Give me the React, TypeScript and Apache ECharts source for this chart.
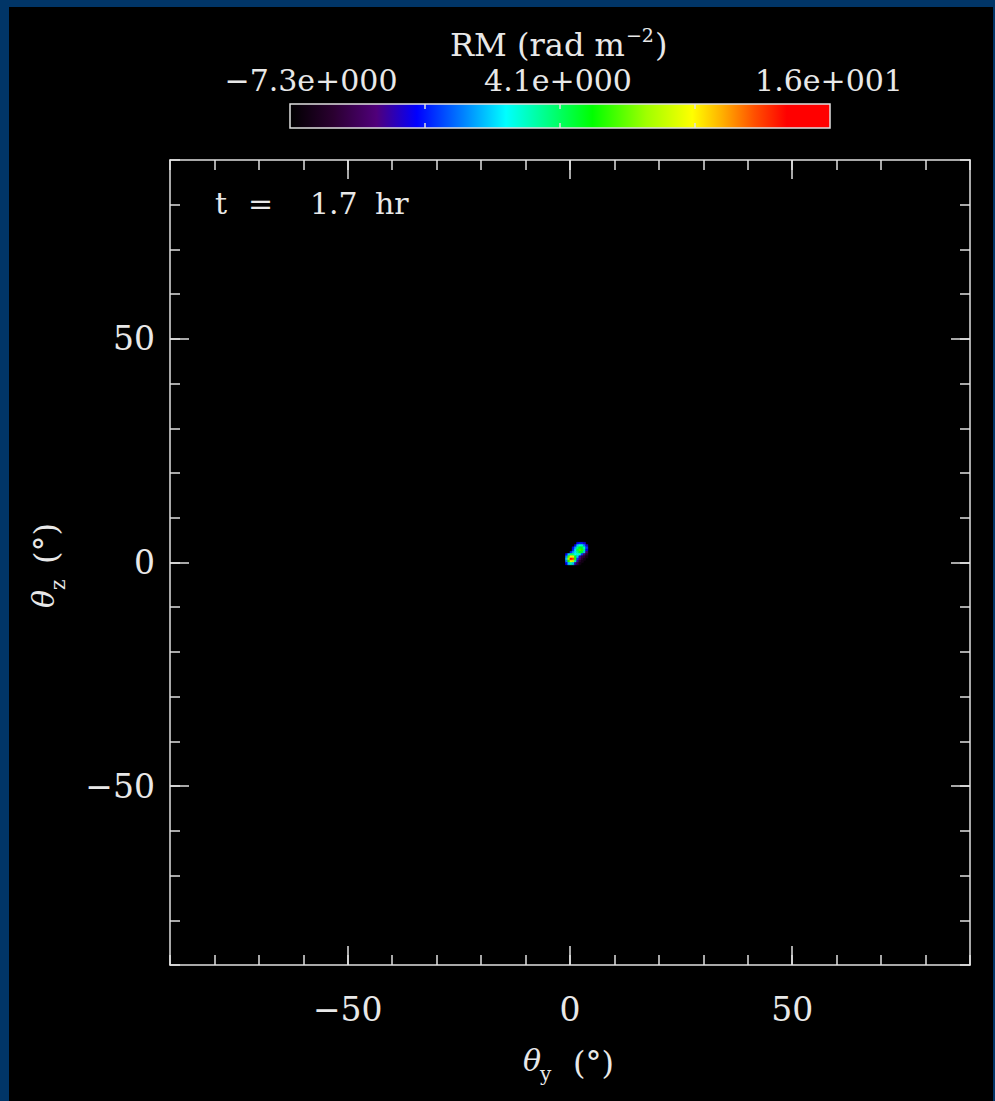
import React, { useEffect, useRef } from "react";
import * as echarts from "echarts";

// ---- axes (degrees) ----
const X_MIN = -90;
const X_MAX = 90;
const Y_MIN = -90;
const Y_MAX = 90;
const MINOR_STEP = 10;
const MAJOR_TICKS = [-50, 0, 50];

// ---- colour scale (RM, rad m^-2) ----
const RM_MIN = -7.3;
const RM_MAX = 15.5;
const CBAR_LABELS = ["\u22127.3e+000", "4.1e+000", "1.6e+001"];
const CBAR_TICK_FRACTIONS = [0.25, 0.5, 0.75];
const TIME_VALUE = "1.7";

// ---- RM map: cells of CELL degrees, rows top -> bottom ----
const CELL = 0.5;
const GRID_X0 = -1.0; // left edge of first column
const GRID_Y0 = 4.5; // top edge of first row
const RM_ROWS: (number | null)[][] = [
  [null, null, null, null, null, -2, -1.5, -1.5, -2.5, null, null],
  [null, null, null, null, -2, 1, 2.5, 2.5, 0, -2.5, null],
  [null, null, null, -2, 0.5, 3.5, 5, 4.8, 2.7, -1, null],
  [null, null, null, -1.5, 1.5, 4.5, 6.5, 6, 3.5, -2, null],
  [null, null, -1.5, 0.5, 1.5, 3.5, 5, 4.7, 1, -4, null],
  [-2, 1, 4, 3.5, 2, 2.5, 2.5, -1, -4, -5.5, null],
  [0, 6.5, 10, 9, 5, 1, -3, -5, -5.5, -6.5, null],
  [1, 8, 14, 12.5, 6, -1, -4, -5.5, -6.5, null, null],
  [0, 6, 10, 9, 3, -3, -5.5, -6.5, null, null, null],
  [-2, 1, 3, 1, -3, -5, -6.5, null, null, null, null],
];

const COLOR_STOPS: [number, string][] = [
  [0.0, "#000000"],
  [0.08, "#2a0030"],
  [0.16, "#50007a"],
  [0.235, "#0000ff"],
  [0.32, "#0080ff"],
  [0.4, "#00ffff"],
  [0.48, "#00ff80"],
  [0.56, "#00ff00"],
  [0.66, "#a0ff00"],
  [0.745, "#ffff00"],
  [0.8, "#ffb000"],
  [0.86, "#ff5000"],
  [0.92, "#ff0000"],
  [1.0, "#ff0000"],
];

const FONT = '"DejaVu Serif", serif';
const TEXT = "#e8e8e8";
const FRAME = "#e0e0e0";
const PAGE_BLUE = "#013567";

function hexToRgb(h: string) {
  const n = parseInt(h.slice(1), 16);
  return [(n >> 16) & 255, (n >> 8) & 255, n & 255];
}
function rampColor(f: number) {
  for (let i = 0; i < COLOR_STOPS.length - 1; i++) {
    const [a, ca] = COLOR_STOPS[i];
    const [b, cb] = COLOR_STOPS[i + 1];
    if (f >= a && f <= b) {
      const t = b === a ? 0 : (f - a) / (b - a);
      const A = hexToRgb(ca);
      const B = hexToRgb(cb);
      const c = A.map((v, k) => Math.round(v + (B[k] - v) * t));
      return `rgb(${c[0]},${c[1]},${c[2]})`;
    }
  }
  return COLOR_STOPS[COLOR_STOPS.length - 1][1];
}
const RAMP = Array.from({ length: 96 }, (_, k) => rampColor(k / 95));

function measure(text: string, font: string) {
  const ctx = document.createElement("canvas").getContext("2d")!;
  ctx.font = font;
  return ctx.measureText(text).width;
}

const fmt = (v: number) => (v < 0 ? "\u2212" + Math.abs(v) : String(v));

export default function App() {
  const ref = useRef<HTMLDivElement>(null);

  useEffect(() => {
    if (!ref.current) return;
    const chart = echarts.init(ref.current, undefined, { renderer: "svg" });

    const heat: [number, number, number][] = [];
    RM_ROWS.forEach((row, i) =>
      row.forEach((v, j) => {
        if (v !== null) {
          heat.push([GRID_X0 + (j + 0.5) * CELL, GRID_Y0 - (i + 0.5) * CELL, v]);
        }
      })
    );

    const tickLine = { color: FRAME, width: 1.5 };
    const minorAxis = (pos: string) => ({
      type: "value",
      position: pos,
      min: pos === "left" || pos === "right" ? Y_MIN : X_MIN,
      max: pos === "left" || pos === "right" ? Y_MAX : X_MAX,
      interval: MINOR_STEP,
      axisLine: { show: true, onZero: false, lineStyle: tickLine },
      axisTick: { show: true, inside: true, length: 10, lineStyle: tickLine },
      axisLabel: { show: false },
      splitLine: { show: false },
    });
    const majorAxis = (pos: string, labels: boolean) => ({
      type: "value",
      position: pos,
      min: pos === "left" || pos === "right" ? Y_MIN : X_MIN,
      max: pos === "left" || pos === "right" ? Y_MAX : X_MAX,
      axisLine: { show: false, onZero: false },
      axisTick: { show: true, inside: true, length: 19, lineStyle: tickLine, customValues: MAJOR_TICKS },
      axisLabel: {
        show: labels,
        customValues: MAJOR_TICKS,
        formatter: fmt,
        color: TEXT,
        fontFamily: FONT,
        fontSize: 33,
        margin: pos === "bottom" ? 28 : 15,
      },
      splitLine: { show: false },
    });

    // colour bar geometry (relative to chart box)
    const CB = { x: 281, y: 97, w: 540, h: 24 };
    const cbLabelX = [302, 549, 820];
    const gradient = new echarts.graphic.LinearGradient(
      0, 0, 1, 0,
      COLOR_STOPS.map(([o, c]) => ({ offset: o, color: c }))
    );

    const titleFont = `32px ${FONT}`;
    const titleMain = "RM (rad m";
    const titleX = 441;
    const wMain = measure(titleMain, titleFont);
    const supText = "\u22122";
    const wSup = measure(supText, `19px ${FONT}`);

    const graphic: any[] = [
      {
        type: "rect",
        shape: { x: CB.x, y: CB.y, width: CB.w, height: CB.h },
        style: { fill: gradient, stroke: FRAME, lineWidth: 1.5 },
      },
      ...CBAR_TICK_FRACTIONS.flatMap((f) => [
        { type: "line", shape: { x1: CB.x + f * CB.w, y1: CB.y, x2: CB.x + f * CB.w, y2: CB.y + 5 }, style: { stroke: FRAME, lineWidth: 1.5 } },
        { type: "line", shape: { x1: CB.x + f * CB.w, y1: CB.y + CB.h - 5, x2: CB.x + f * CB.w, y2: CB.y + CB.h }, style: { stroke: FRAME, lineWidth: 1.5 } },
      ]),
      ...CBAR_LABELS.map((t, k) => ({
        type: "text",
        x: cbLabelX[k],
        y: 73,
        style: { text: t, fill: TEXT, font: `30px ${FONT}`, lineHeight: 30, align: "center", verticalAlign: "middle" },
      })),
      { type: "text", x: titleX, y: 38, style: { text: titleMain, fill: TEXT, font: titleFont, lineHeight: 32, align: "left", verticalAlign: "middle" } },
      { type: "text", x: titleX + wMain + 1, y: 28, style: { text: supText, fill: TEXT, font: `19px ${FONT}`, lineHeight: 19, align: "left", verticalAlign: "middle" } },
      { type: "text", x: titleX + wMain + wSup + 2, y: 38, style: { text: ")", fill: TEXT, font: titleFont, lineHeight: 32, align: "left", verticalAlign: "middle" } },
      // time label
      { type: "text", x: 206, y: 196, style: { text: "t", fill: TEXT, font: `30px ${FONT}`, align: "left", verticalAlign: "middle" } },
      { type: "text", x: 239, y: 196, style: { text: "=", fill: TEXT, font: `30px ${FONT}`, align: "left", verticalAlign: "middle" } },
      { type: "text", x: 301, y: 196, style: { text: TIME_VALUE, fill: TEXT, font: `30px ${FONT}`, align: "left", verticalAlign: "middle" } },
      { type: "text", x: 366, y: 196, style: { text: "hr", fill: TEXT, font: `30px ${FONT}`, align: "left", verticalAlign: "middle" } },
      // x axis title
      { type: "text", x: 514, y: 1053, style: { text: "\u03b8", fill: TEXT, font: `italic 30px ${FONT}`, align: "left", verticalAlign: "middle" } },
      { type: "text", x: 531, y: 1067, style: { text: "y", fill: TEXT, font: `20px ${FONT}`, align: "left", verticalAlign: "middle" } },
      { type: "text", x: 564, y: 1056, style: { text: "(\u00b0)", fill: TEXT, font: `32px ${FONT}`, align: "left", verticalAlign: "middle" } },
      // y axis title (rotated)
      {
        type: "group",
        x: 34.5,
        y: 601,
        rotation: Math.PI / 2,
        children: [
          { type: "text", x: 0, y: 0, style: { text: "\u03b8", fill: TEXT, font: `italic 30px ${FONT}`, align: "left", verticalAlign: "middle" } },
          { type: "text", x: 18, y: 14, style: { text: "z", fill: TEXT, font: `20px ${FONT}`, align: "left", verticalAlign: "middle" } },
          { type: "text", x: 44, y: 2, style: { text: "(\u00b0)", fill: TEXT, font: `32px ${FONT}`, align: "left", verticalAlign: "middle" } },
        ],
      },
    ];

    chart.setOption({
      animation: false,
      backgroundColor: "#000000",
      grid: { left: 161, top: 153, width: 800, height: 805, containLabel: false, outerBoundsMode: "none" },
      xAxis: [minorAxis("bottom"), majorAxis("bottom", true), minorAxis("top"), majorAxis("top", false)],
      yAxis: [minorAxis("left"), majorAxis("left", true), minorAxis("right"), majorAxis("right", false)],
      visualMap: {
        type: "continuous",
        show: false,
        min: RM_MIN,
        max: RM_MAX,
        dimension: 2,
        seriesIndex: 0,
        inRange: { color: RAMP },
      },
      series: [
        {
          type: "custom",
          xAxisIndex: 0,
          yAxisIndex: 0,
          data: heat,
          encode: { x: 0, y: 1 },
          renderItem: (_p: any, api: any) => {
            const x = api.value(0);
            const y = api.value(1);
            const p0 = api.coord([x - CELL / 2, y + CELL / 2]);
            const p1 = api.coord([x + CELL / 2, y - CELL / 2]);
            const c = api.visual("color");
            return {
              type: "rect",
              shape: { x: p0[0], y: p0[1], width: p1[0] - p0[0], height: p1[1] - p0[1] },
              style: { fill: c, stroke: c, lineWidth: 0.6 },
            };
          },
        },
      ],
      graphic,
    });

    return () => chart.dispose();
  }, []);

  return (
    <div style={{ position: "fixed", left: 0, top: 0, width: 995, height: 1101, background: PAGE_BLUE }}>
      <div
        ref={ref}
        style={{ position: "absolute", left: 9, top: 7, width: 984, height: 1094, background: "#000" }}
      />
    </div>
  );
}
